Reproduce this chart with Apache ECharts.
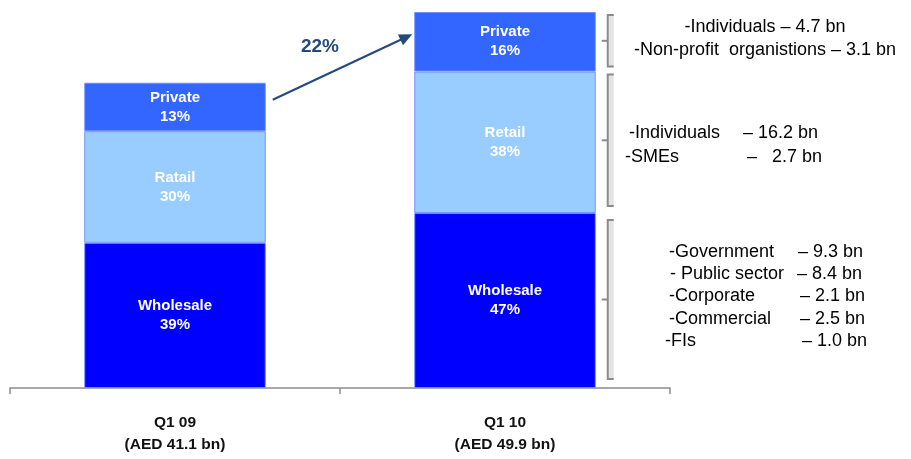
<!DOCTYPE html>
<html>
<head>
<meta charset="utf-8">
<script src="https://cdn.jsdelivr.net/npm/echarts@6/dist/echarts.min.js"></script>
<style>html,body{margin:0;padding:0;background:#fff}#c{width:911px;height:459px}</style>
</head>
<body>
<div id="c"></div>
<script>
const categories = ['Q1 09', 'Q1 10'];
const totals = ['AED 41.1 bn', 'AED 49.9 bn'];
const wholesale = [39, 47];
const retail = [30, 38];
const privateVals = [13, 16];
const retailNames = ['Ratail', 'Retail'];
const growthLabel = '22%';
const privateNotes = ['-Individuals – 4.7 bn', '-Non-profit  organistions – 3.1 bn'];
const retailNotes = [['-Individuals', '– 16.2 bn'], ['-SMEs', '–   2.7 bn']];
const wholesaleNotes = [['-Government', '– 9.3 bn'], ['- Public sector', '– 8.4 bn'], ['-Corporate', '– 2.1 bn'], ['-Commercial', '– 2.5 bn'], ['-FIs', '– 1.0 bn']];

const NARROW = "'Liberation Sans Narrow', 'Arial Narrow', 'Liberation Sans', Arial, sans-serif";
const SANS = "'Liberation Sans', Arial, sans-serif";

const chart = echarts.init(document.getElementById('c'), null, {renderer: 'canvas'});

function seg(name, data, color, names) {
  return {
    name: name, type: 'bar', stack: 'total', barWidth: '55%', data: data,
    itemStyle: {color: color, borderColor: 'rgba(110,140,255,0.9)', borderWidth: 1},
    label: {
      show: true, position: 'inside', color: '#ffffff', fontFamily: NARROW,
      fontWeight: 'bold', fontSize: 15, lineHeight: 19,
      formatter: p => (names ? names[p.dataIndex] : name) + '\n' + p.value + '%'
    },
    emphasis: {disabled: true}
  };
}

chart.setOption({
  animation: false,
  grid: {left: 10, right: 241, top: 12, bottom: 71},
  xAxis: {
    type: 'category', data: categories,
    axisLine: {lineStyle: {color: '#8c8c8c', width: 1.5}},
    axisTick: {show: true, length: 6, lineStyle: {color: '#8c8c8c', width: 1.5}},
    axisLabel: {
      margin: 24, color: '#111', fontFamily: NARROW, fontWeight: 'bold', fontSize: 15.5, lineHeight: 22,
      formatter: (v, i) => v + '\n(' + totals[i] + ')'
    }
  },
  yAxis: {type: 'value', min: 0, max: 101, show: false},
  series: [
    seg('Wholesale', wholesale, '#0000ff'),
    seg('Retail', retail, '#99ccff', retailNames),
    seg('Private', privateVals, '#3366ff')
  ]
});

function px(i, v) { return chart.convertToPixel({gridIndex: 0}, [i, v]); }

const c0 = px(0, 0)[0], c1 = px(1, 0)[0];
const halfW = (c1 - c0) * 0.55 / 2;
const top0 = wholesale[0] + retail[0] + privateVals[0];
const start = [c0 + halfW + 7, px(0, top0)[1] + 17];
const tip = [c1 - halfW - 2, px(1, 95)[1]];
const dx = tip[0] - start[0], dy = tip[1] - start[1];
const L = Math.sqrt(dx * dx + dy * dy), ux = dx / L, uy = dy / L;
const hl = 13, hw = 6;
const base = [tip[0] - ux * hl, tip[1] - uy * hl];
const arrowColor = '#244a7c';

const graphics = [
  {type: 'line', shape: {x1: start[0], y1: start[1], x2: base[0] + ux * 2, y2: base[1] + uy * 2}, style: {stroke: arrowColor, lineWidth: 2}},
  {type: 'polygon', shape: {points: [tip, [base[0] - uy * hw, base[1] + ux * hw], [base[0] + uy * hw, base[1] - ux * hw]]}, style: {fill: arrowColor}},
  {type: 'text', x: 320, y: 47, style: {text: growthLabel, fill: arrowColor, font: 'bold 19px ' + NARROW, textAlign: 'center', textVerticalAlign: 'middle'}}
];

// brackets based on bar 2 segment bounds
const b0 = px(1, 0)[1];
const b1 = px(1, wholesale[1])[1];
const b2 = px(1, wholesale[1] + retail[1])[1];
const b3 = px(1, wholesale[1] + retail[1] + privateVals[1])[1];
const bx = c1 + halfW + 12;
function bracket(yTop, yBot) {
  const t = yTop + 3, b = yBot - 9, m = (t + b) / 2;
  graphics.push({type: 'rect', shape: {x: bx + 1, y: t, width: 5, height: b - t}, style: {fill: '#e4e4e4'}});
  graphics.push({type: 'polyline', shape: {points: [[bx + 6, t], [bx, t], [bx, b], [bx + 6, b]]}, style: {stroke: '#8a8a8a', lineWidth: 2, fill: null}});
  graphics.push({type: 'line', shape: {x1: bx - 6, y1: m, x2: bx, y2: m}, style: {stroke: '#8a8a8a', lineWidth: 2}});
}
bracket(b3, b2 + 4);
bracket(b2, b1 + 2);
bracket(b1 + 4, b0);

function txt(s, x, y, align) {
  graphics.push({type: 'text', x: x, y: y, style: {text: s, fill: '#000', font: '18px ' + SANS, textAlign: align || 'left', textVerticalAlign: 'middle'}});
}
txt(privateNotes[0], 765, 27, 'center');
txt(privateNotes[1], 765, 50, 'center');
txt(retailNotes[0][0], 629, 133); txt(retailNotes[0][1], 743, 133);
txt(retailNotes[1][0], 625, 157); txt(retailNotes[1][1], 747, 157);
const wy = [252, 274, 296, 319, 341];
const wxL = [669, 670, 669, 669, 665];
const wxR = [798, 797, 800, 800, 802];
wholesaleNotes.forEach((n, i) => { txt(n[0], wxL[i], wy[i]); txt(n[1], wxR[i], wy[i]); });

chart.setOption({graphic: graphics});
</script>
</body>
</html>
